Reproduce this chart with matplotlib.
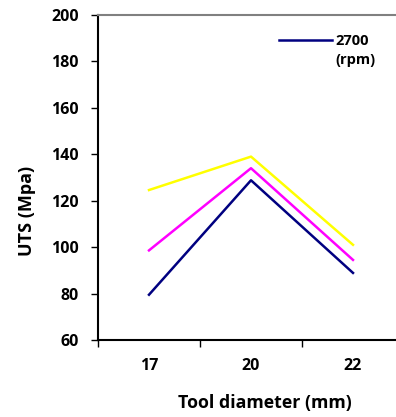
import matplotlib
matplotlib.use("Agg")
import matplotlib.pyplot as plt

categories = ["17", "20", "22"]
s2700 = [79.5, 128.8, 88.9]
s_mag = [98.6, 134.0, 94.5]
s_yel = [124.6, 139.0, 101.0]
yticks = [60, 80, 100, 120, 140, 160, 180, 200]

plt.rcParams['font.family'] = ['Open Sans', 'DejaVu Sans']
plt.rcParams['font.weight'] = 'bold'

fig = plt.figure(figsize=(3.96, 4.17), dpi=100)
W, H = 396, 417
x0, x1, y0, y1 = 98, 404, 340, 15
ax = fig.add_axes([x0 / W, 1 - y0 / H, (x1 - x0) / W, (y0 - y1) / H])

def ax_x(px):
    return (px - x0) / (x1 - x0)

def ax_y(py):
    return 1 - (py - y1) / (y0 - y1)

x = list(range(len(categories)))
ax.plot(x, s2700, color='#000080', lw=1.8, label='2700')
ax.plot(x, s_mag, color='#FF00FF', lw=1.8)
ax.plot(x, s_yel, color='#FFFF00', lw=1.8)

ax.set_xlim(-0.5, 2.5)
ax.set_ylim(60, 200)
ax.set_yticks(yticks)
ax.set_xticks(x)
ax.set_xticklabels(categories)
ax.set_xticks([-0.5, 0.5, 1.5, 2.5], minor=True)
ax.tick_params(axis='x', which='major', length=0, pad=13, labelsize=11.5)
ax.tick_params(axis='x', which='minor', length=5, width=1, direction='out')
ax.tick_params(axis='y', length=5, width=1, direction='out', labelsize=11.5, pad=9)
for lbl in ax.get_xticklabels() + ax.get_yticklabels():
    lbl.set_fontweight('bold')

for s in ['left', 'bottom']:
    ax.spines[s].set_linewidth(1.5)
    ax.spines[s].set_color('black')
ax.spines['top'].set_color('#808080')
ax.spines['top'].set_linewidth(1.5)
ax.spines['right'].set_visible(False)

ax.set_xlabel('Tool diameter (mm)', fontsize=12.8, fontweight='bold')
ax.xaxis.set_label_coords(ax_x(265), ax_y(403))
ax.xaxis.label.set_va('center')
ax.set_ylabel('UTS (Mpa)', fontsize=13, fontweight='bold')
ax.yaxis.set_label_coords(ax_x(27), ax_y(211))
ax.yaxis.label.set_va('center')

fs_leg = 10.5
leg = ax.legend(loc='center left', bbox_to_anchor=(ax_x(279), ax_y(41)),
                frameon=False, prop={'size': fs_leg, 'weight': 'bold'},
                handlelength=53 / (fs_leg * 100 / 72), handletextpad=0.2,
                borderaxespad=0, borderpad=0)
ax.text(ax_x(335), ax_y(60), '(rpm)', transform=ax.transAxes, fontsize=fs_leg,
        fontweight='bold', ha='left', va='center')

fig.savefig('out.png', dpi=100)
